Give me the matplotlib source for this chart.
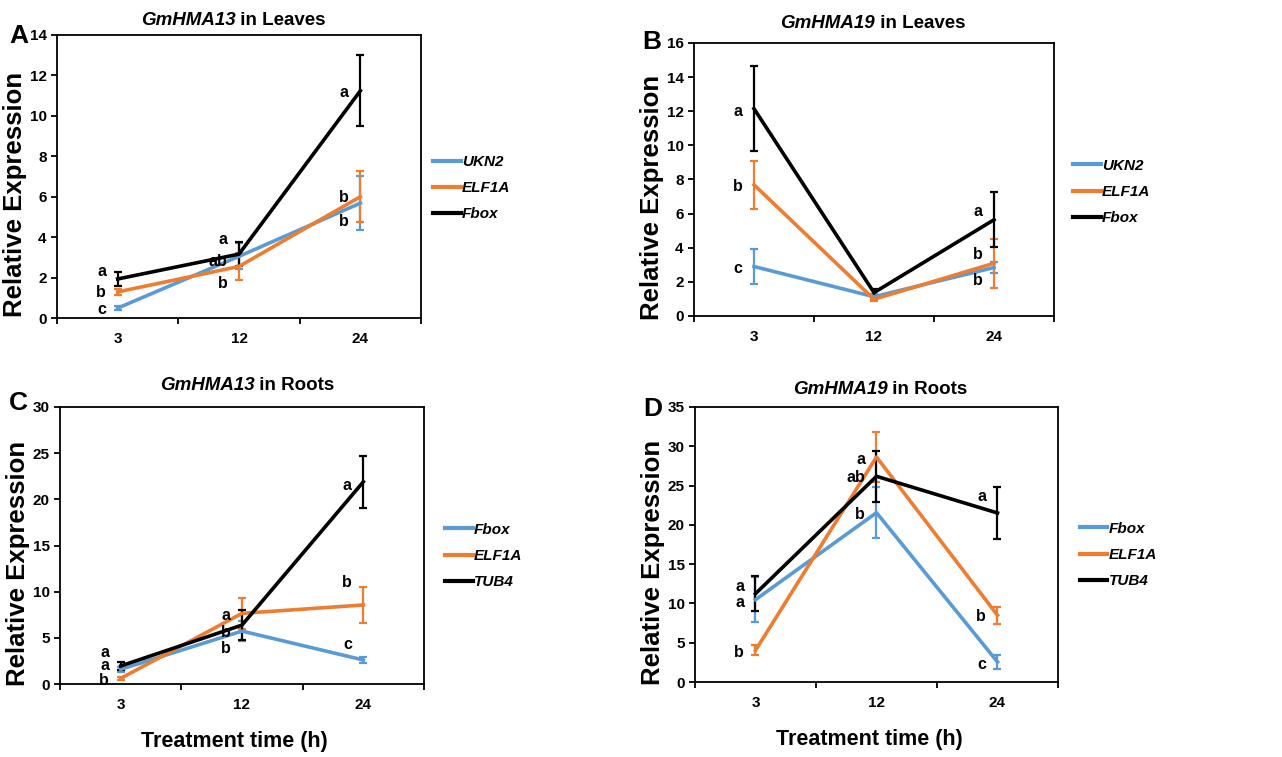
import matplotlib
matplotlib.use("Agg")
import matplotlib.pyplot as plt
from matplotlib.lines import Line2D
import numpy as np

plt.rcParams['font.family'] = ['Liberation Sans', 'DejaVu Sans']
plt.rcParams['font.weight'] = 'bold'

hours = ['3', '12', '24']

# GmHMA13 in leaves
a_ukn2 = [0.49, 3.05, 5.68]
a_ukn2_err = [0.10, 0.65, 1.35]
a_elf1a = [1.29, 2.55, 6.00]
a_elf1a_err = [0.15, 0.65, 1.25]
a_fbox = [1.93, 3.16, 11.24]
a_fbox_err = [0.37, 0.60, 1.75]
a_letters = [['a', 'b', 'c'], ['a', 'ab', 'b'], ['a', 'b', 'b']]
a_letter_y = [[2.3, 1.27, 0.41], [3.9, 2.8, 1.7], [11.15, 5.96, 4.78]]

# GmHMA19 in leaves
b_ukn2 = [2.90, 1.13, 2.84]
b_ukn2_err = [1.00, 0.15, 0.30]
b_elf1a = [7.69, 0.98, 3.09]
b_elf1a_err = [1.42, 0.10, 1.45]
b_fbox = [12.15, 1.37, 5.64]
b_fbox_err = [2.50, 0.20, 1.60]
b_letters = [['a', 'b', 'c'], [], ['a', 'b', 'b']]
b_letter_y = [[12.0, 7.6, 2.8], [], [6.1, 3.58, 2.1]]

# GmHMA13 in roots
c_fbox = [1.59, 5.73, 2.60]
c_fbox_err = [0.30, 1.10, 0.35]
c_elf1a = [0.61, 7.65, 8.56]
c_elf1a_err = [0.20, 1.70, 1.90]
c_tub4 = [1.95, 6.38, 21.90]
c_tub4_err = [0.40, 1.65, 2.80]
c_letters = [['a', 'a', 'b'], ['a', 'b', 'b'], ['a', 'b', 'c']]
c_letter_y = [[3.45, 2.0, 0.35], [7.4, 5.55, 3.86], [21.5, 10.96, 4.33]]

# GmHMA19 in roots
d_fbox = [10.48, 21.55, 2.55]
d_fbox_err = [2.85, 3.25, 0.85]
d_elf1a = [4.03, 28.64, 8.49]
d_elf1a_err = [0.65, 3.20, 1.05]
d_tub4 = [11.24, 26.18, 21.51]
d_tub4_err = [2.25, 3.25, 3.30]
d_letters = [['a', 'a', 'b'], ['a', 'ab', 'b'], ['a', 'b', 'c']]
d_letter_y = [[12.1, 10.1, 3.8], [28.3, 26.0, 21.3], [23.6, 8.36, 2.25]]

BLUE = '#5B9BD5'
ORANGE = '#ED7D31'
BLACK = '#000000'

fig = plt.figure(figsize=(12.82, 7.57), dpi=100)


def panel(rect, gene, tissue, series, ymax, ystep, letters, letter_y,
          title_xy, leg_xy, tag, tag_xy, xlabel=False):
    ax = fig.add_axes(rect)
    x = np.arange(len(hours)) + 0.5
    handles = []
    for name, vals, errs, col in series:
        ax.errorbar(x, vals, yerr=errs, color=col, lw=2.6, elinewidth=1.6,
                    capsize=3, capthick=1.6)
        handles.append(Line2D([], [], color=col, lw=3, label=name))

    for i, (labs, ys) in enumerate(zip(letters, letter_y)):
        for lab, yy in zip(labs, ys):
            ax.text(x[i] - 0.095, yy, lab, ha='right', va='center',
                    fontsize=11.5, fontweight='bold')

    ax.set_xlim(0, 3)
    ax.set_ylim(0, ymax)
    ax.set_yticks(np.arange(0, ymax + 0.1, ystep))
    ax.set_xticks([0, 1, 2, 3])
    ax.set_xticklabels([])
    ax.set_xticks(x, minor=True)
    ax.set_xticklabels(hours, minor=True)
    ax.tick_params(axis='x', which='minor', length=0, pad=10)
    ax.tick_params(axis='both', which='major', direction='out', length=4,
                   width=1.3, labelsize=11)
    ax.tick_params(axis='x', which='minor', labelsize=11)
    for lab in ax.get_xticklabels(minor=True) + ax.get_yticklabels():
        lab.set_fontweight('bold')
    for sp in ax.spines.values():
        sp.set_linewidth(1.3)

    ax.set_ylabel('Relative Expression', fontsize=18.5, fontweight='bold')
    ax.yaxis.set_label_coords(-0.082, 0.435)
    if xlabel:
        ax.set_xlabel('Treatment time (h)', fontsize=15.5, fontweight='bold')
        ax.xaxis.set_label_coords(0.48, -0.17)

    # title: gene name in italic, tissue upright
    r = fig.canvas.get_renderer()
    t1 = ax.text(0, 0, gene, fontsize=13.5, fontweight='bold', style='italic',
                 transform=ax.transAxes)
    t2 = ax.text(0, 0, ' in ' + tissue, fontsize=13.5, fontweight='bold',
                 transform=ax.transAxes)
    w1 = t1.get_window_extent(r).width
    w2 = t2.get_window_extent(r).width
    ax_w = ax.get_window_extent(r).width
    x0 = title_xy[0] - (w1 + w2) / 2 / ax_w
    t1.set_position((x0, title_xy[1]))
    t1.set_va('center')
    t2.set_position((x0 + w1 / ax_w, title_xy[1]))
    t2.set_va('center')

    ax.legend(handles=handles, loc='center left', bbox_to_anchor=leg_xy,
              frameon=False, borderpad=0, borderaxespad=0, handlelength=1.8,
              handletextpad=0.1, labelspacing=0.8,
              prop={'size': 11, 'weight': 'bold', 'style': 'italic'})

    fig.text(tag_xy[0], tag_xy[1], tag, fontsize=19, fontweight='bold',
             ha='center', va='center')
    return ax


W, H = 1282, 757

panel([57 / W, 1 - 318 / H, 364 / W, 283 / H], 'GmHMA13', 'Leaves',
      [('UKN2', a_ukn2, a_ukn2_err, BLUE),
       ('ELF1A', a_elf1a, a_elf1a_err, ORANGE),
       ('Fbox', a_fbox, a_fbox_err, BLACK)],
      14, 2, a_letters, a_letter_y, (0.484, 1.053), (1.033, 0.459),
      'A', (19 / W, 1 - 36 / H))

panel([694 / W, 1 - 316 / H, 360 / W, 273 / H], 'GmHMA19', 'Leaves',
      [('UKN2', b_ukn2, b_ukn2_err, BLUE),
       ('ELF1A', b_elf1a, b_elf1a_err, ORANGE),
       ('Fbox', b_fbox, b_fbox_err, BLACK)],
      16, 2, b_letters, b_letter_y, (0.497, 1.073), (1.053, 0.454),
      'B', (652 / W, 1 - 42 / H))

panel([60 / W, 1 - 684 / H, 364 / W, 277 / H], 'GmHMA13', 'Roots',
      [('Fbox', c_fbox, c_fbox_err, BLUE),
       ('ELF1A', c_elf1a, c_elf1a_err, ORANGE),
       ('TUB4', c_tub4, c_tub4_err, BLACK)],
      30, 5, c_letters, c_letter_y, (0.514, 1.079), (1.058, 0.462),
      'C', (18 / W, 1 - 403 / H), xlabel=True)

panel([695 / W, 1 - 682 / H, 363 / W, 275 / H], 'GmHMA19', 'Roots',
      [('Fbox', d_fbox, d_fbox_err, BLUE),
       ('ELF1A', d_elf1a, d_elf1a_err, ORANGE),
       ('TUB4', d_tub4, d_tub4_err, BLACK)],
      35, 5, d_letters, d_letter_y, (0.51, 1.062), (1.06, 0.462),
      'D', (653 / W, 1 - 409 / H), xlabel=True)

fig.savefig('out.png', dpi=100)
